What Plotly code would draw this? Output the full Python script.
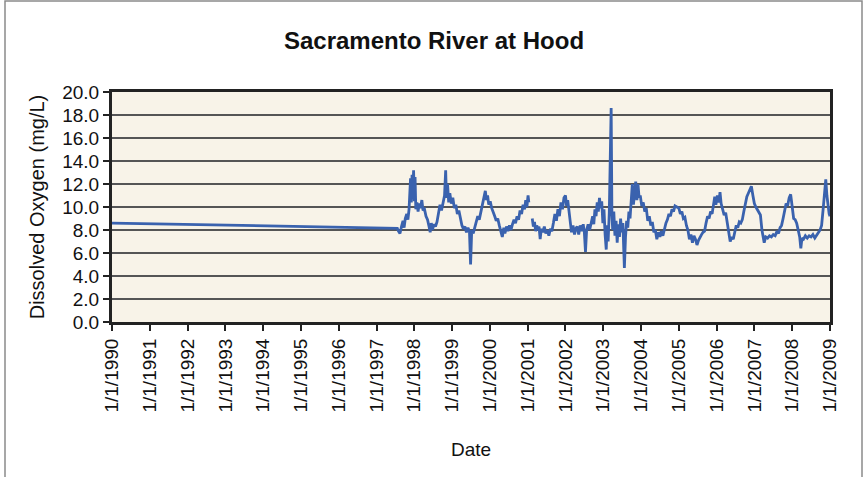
import plotly.graph_objects as go
import pandas as pd

TITLE = "Sacramento River at Hood"
Y_TITLE = "Dissolved Oxygen (mg/L)"
X_TITLE = "Date"

# decimal years and dissolved oxygen (mg/L)
YEARS = [
    1990.00, 1997.55,
    1997.58, 1997.62, 1997.66, 1997.70, 1997.73, 1997.76, 1997.80, 1997.83, 1997.86, 1997.88,
    1997.90, 1997.92, 1997.94, 1997.96, 1997.98, 1998.00, 1998.02, 1998.04, 1998.07, 1998.10,
    1998.13, 1998.16, 1998.20, 1998.23, 1998.27, 1998.31, 1998.35, 1998.39, 1998.42, 1998.45,
    1998.48, 1998.52, 1998.56, 1998.60, 1998.64, 1998.68, 1998.72, 1998.76, 1998.80, 1998.83,
    1998.85, 1998.88, 1998.91, 1998.94, 1998.98, 1999.02, 1999.06, 1999.10, 1999.14, 1999.18,
    1999.22, 1999.26, 1999.30, 1999.34, 1999.38, 1999.42, 1999.46, 1999.49, 1999.52, 1999.56,
    1999.60, 1999.64, 1999.68, 1999.72, 1999.76, 1999.80, 1999.84, 1999.88, 1999.91, 1999.94,
    1999.97, 2000.01, 2000.05, 2000.09, 2000.13, 2000.17, 2000.21, 2000.25, 2000.29, 2000.33,
    2000.37, 2000.40, 2000.44, 2000.48, 2000.52, 2000.56, 2000.60, 2000.64, 2000.68, 2000.72,
    2000.76, 2000.80, 2000.84, 2000.88, 2000.92, 2000.95, 2000.98, 2001.01, 2001.03, 2001.07,
    2001.12, 2001.15, 2001.18, 2001.21, 2001.24, 2001.27, 2001.30, 2001.33, 2001.36, 2001.40,
    2001.44, 2001.48, 2001.52, 2001.56, 2001.60, 2001.64, 2001.68, 2001.72, 2001.76, 2001.80,
    2001.84, 2001.88, 2001.92, 2001.96, 2002.00, 2002.03, 2002.06, 2002.10, 2002.13, 2002.16,
    2002.20, 2002.24, 2002.27, 2002.31, 2002.35, 2002.39, 2002.43, 2002.47, 2002.50, 2002.53,
    2002.56, 2002.60, 2002.64, 2002.68, 2002.72, 2002.75, 2002.78, 2002.81, 2002.84, 2002.87,
    2002.90, 2002.93, 2002.96, 2002.99, 2003.02, 2003.05, 2003.08, 2003.10, 2003.13, 2003.16,
    2003.19, 2003.21, 2003.23, 2003.25, 2003.28, 2003.31, 2003.34, 2003.37, 2003.40, 2003.43,
    2003.46, 2003.49, 2003.52, 2003.56, 2003.59, 2003.62, 2003.65, 2003.68, 2003.71, 2003.74,
    2003.77, 2003.80, 2003.83, 2003.86, 2003.89, 2003.92, 2003.95, 2003.98, 2004.02, 2004.06,
    2004.10, 2004.14, 2004.18, 2004.22, 2004.26, 2004.30, 2004.34, 2004.38, 2004.42, 2004.46,
    2004.50, 2004.54, 2004.58, 2004.62, 2004.66, 2004.70, 2004.74, 2004.78, 2004.82, 2004.86,
    2004.90, 2004.95, 2005.00, 2005.04, 2005.08, 2005.12, 2005.16, 2005.20, 2005.24, 2005.28,
    2005.32, 2005.36, 2005.40, 2005.44, 2005.48, 2005.52, 2005.56, 2005.60, 2005.64, 2005.68,
    2005.72, 2005.76, 2005.80, 2005.84, 2005.88, 2005.92, 2005.95, 2005.98, 2006.02, 2006.06,
    2006.09, 2006.12, 2006.16, 2006.20, 2006.24, 2006.28, 2006.32, 2006.36, 2006.40, 2006.44,
    2006.48, 2006.52, 2006.56, 2006.60, 2006.64, 2006.68, 2006.72, 2006.76, 2006.80, 2006.84,
    2006.88, 2006.92, 2006.96, 2007.00, 2007.04, 2007.08, 2007.12, 2007.16, 2007.20, 2007.23,
    2007.26, 2007.30, 2007.35, 2007.40, 2007.45, 2007.50, 2007.55, 2007.60, 2007.64, 2007.68,
    2007.72, 2007.76, 2007.80, 2007.84, 2007.88, 2007.92, 2007.96, 2008.00, 2008.04, 2008.08,
    2008.12, 2008.16, 2008.20, 2008.23, 2008.26, 2008.30, 2008.35, 2008.40, 2008.45, 2008.50,
    2008.55, 2008.60, 2008.65, 2008.70, 2008.74, 2008.78, 2008.82, 2008.86, 2008.89, 2008.92,
    2008.95, 2008.98, 2009.00,
]

DO_MGL = [
    8.6, 8.15,
    7.9, 7.7, 8.3, 8.8, 8.2, 9.0, 9.4, 8.9, 9.8, 11.2,
    12.5, 10.4, 12.8, 11.0, 13.2, 10.5, 12.6, 9.8, 10.4, 9.6,
    10.3, 9.9, 10.6, 9.7, 9.8, 9.2, 8.9, 8.3, 7.8, 8.6,
    8.0, 8.5, 8.3, 8.7, 9.5, 10.2, 9.7, 10.4, 11.0, 13.2,
    10.8, 12.0, 10.4, 11.2, 10.3, 10.8, 9.9, 10.2, 9.4, 9.7,
    8.9, 8.4, 8.1, 8.3, 7.8, 8.2, 7.9, 5.0, 8.0, 7.7,
    8.2, 8.6, 9.2, 8.9, 9.6, 10.2, 10.8, 11.4, 10.6, 11.0,
    10.2, 10.5, 9.9, 9.6, 9.2, 8.8, 9.0, 8.4, 7.9, 7.4,
    8.2, 7.7, 8.3, 7.9, 8.4, 8.0, 8.5, 8.9, 8.6, 9.2,
    8.9, 9.7, 9.4, 10.2, 9.8, 10.6, 10.0, 11.0, 10.4, None,
    9.0, 8.3, 8.7, 7.9, 8.4, 8.0, 8.3, 7.2, 8.1, 7.8,
    8.3, 7.7, 8.0, 7.5, 8.1, 7.9, 8.6, 9.4, 8.8, 9.8,
    9.2, 10.4, 9.8, 10.8, 11.0, 10.1, 10.6, 9.4, 8.6, 7.8,
    8.4, 7.6, 8.1, 8.3, 7.6, 8.4, 7.9, 8.5, 7.8, 6.1,
    8.0, 8.5, 8.0, 8.6, 9.2, 8.5, 9.8, 9.2, 10.4, 9.6,
    10.8, 9.9, 10.5, 8.6, 9.8, 7.6, 6.3, 8.4, 7.0, 9.5,
    15.5, 18.6, 9.4, 8.0, 9.6, 7.5, 8.8, 6.9, 8.5, 7.4,
    9.0, 7.8, 8.6, 4.7, 7.4, 8.8, 8.2, 9.6, 9.0, 11.0,
    12.0, 10.2, 11.6, 12.2, 10.6, 12.0, 10.8, 11.0, 10.1, 10.4,
    9.6, 9.9, 8.8, 9.2, 8.4, 8.7, 7.8, 8.0, 7.2, 7.8,
    7.4, 7.9, 7.5, 8.2, 8.6, 8.9, 9.4, 9.2, 9.8, 9.6,
    10.1, 10.0, 9.9, 9.4, 9.6, 9.0, 9.1, 8.4, 8.0, 7.2,
    7.6, 6.9, 7.5, 7.2, 6.7, 7.1, 7.4, 7.6, 7.8, 7.9,
    8.6, 9.2, 9.0, 9.6, 9.4, 10.4, 10.9, 10.2, 11.0, 10.4,
    11.3, 10.3, 9.8, 9.3, 9.5, 8.6, 7.6, 7.0, 7.4, 7.2,
    7.8, 8.4, 8.2, 8.7, 8.6, 8.9, 9.6, 10.4, 10.9, 11.2,
    11.5, 11.8, 11.0, 10.3, 10.0, 9.8, 9.5, 9.3, 8.0, 7.2,
    6.9, 7.4, 7.3, 7.5, 7.4, 7.6, 7.5, 7.9, 7.7, 8.2,
    8.4, 9.0, 9.8, 10.3, 10.1, 10.8, 11.1, 10.2, 9.0, 8.9,
    8.6, 8.0, 7.4, 6.4, 7.3, 7.2, 7.5, 7.3, 7.5, 7.4,
    7.6, 7.3, 7.5, 7.8, 8.0, 8.4, 9.8, 11.0, 12.4, 11.0,
    10.0, 9.4, 9.2,
]

TICK_YEARS = list(range(1990, 2010))
TICK_TEXT = [f"1/1/{y}" for y in TICK_YEARS]
Y_TICKS = [0, 2, 4, 6, 8, 10, 12, 14, 16, 18, 20]


def to_date(y):
    base = pd.Timestamp(year=int(y), month=1, day=1)
    return base + pd.Timedelta(days=(y - int(y)) * 365.25)


dates = [to_date(y) for y in YEARS]
tick_dates = [pd.Timestamp(year=y, month=1, day=1) for y in TICK_YEARS]

FONT = "Liberation Sans, Arial, sans-serif"

fig = go.Figure()
fig.add_trace(go.Scatter(
    x=dates, y=DO_MGL, mode="lines",
    line=dict(color="#3a62ae", width=2.8),
    connectgaps=False, showlegend=False,
))

W, H = 866, 477
L, T = 112, 92
R = W - 830
B = H - 322
pw, ph = W - L - R, H - T - B

fig.update_layout(
    width=W, height=H,
    margin=dict(l=L, r=R, t=T, b=B, autoexpand=False),
    paper_bgcolor="white",
    plot_bgcolor="#f8f3e8",
    font=dict(family=FONT, color="#111", size=18),
    title=dict(text=f"<b>{TITLE}</b>", x=434 / W, xref="container", xanchor="center",
               y=1 - 41 / H, yref="container", yanchor="middle",
               font=dict(size=24, family=FONT, color="#111")),
    showlegend=False,
)

fig.update_xaxes(
    type="date", automargin=False,
    range=[tick_dates[0], tick_dates[-1]],
    tickmode="array", tickvals=tick_dates, ticktext=TICK_TEXT,
    tickangle=-90, tickfont=dict(size=19, family=FONT, color="#111"),
    ticks="outside", ticklen=6, tickwidth=1.5, tickcolor="#222",
    showgrid=False, zeroline=False,
    showline=True, linecolor="#222", linewidth=3, mirror=True,
    title=dict(text=X_TITLE, font=dict(size=19, family=FONT, color="#111"), standoff=32),
)

fig.update_yaxes(
    range=[0, 20], automargin=False,
    tickmode="array", tickvals=Y_TICKS, ticktext=[f"{v:.1f}" for v in Y_TICKS],
    tickfont=dict(size=19, family=FONT, color="#111"),
    ticks="outside", ticklen=6, tickwidth=1.5, tickcolor="#222",
    showgrid=True, gridcolor="#555", gridwidth=1.5,
    zeroline=False,
    showline=True, linecolor="#222", linewidth=3, mirror=True,
    title=dict(text=Y_TITLE, font=dict(size=20, family=FONT, color="#111"), standoff=13),
)

# outer chart frame (left, top and right edges of the chart box)
fig.add_shape(
    type="rect", xref="paper", yref="paper",
    x0=(5 - L) / pw, x1=(862 - L) / pw,
    y0=-1.0, y1=(322 - 1) / ph,
    line=dict(color="#8a8a8a", width=1.5), fillcolor="rgba(0,0,0,0)", layer="below",
)

# drop the browser's default 8px body margin so the figure sits at the page origin
fig.write_html("out.html", config={"displayModeBar": False},
               post_script="document.body.style.margin='0';")
